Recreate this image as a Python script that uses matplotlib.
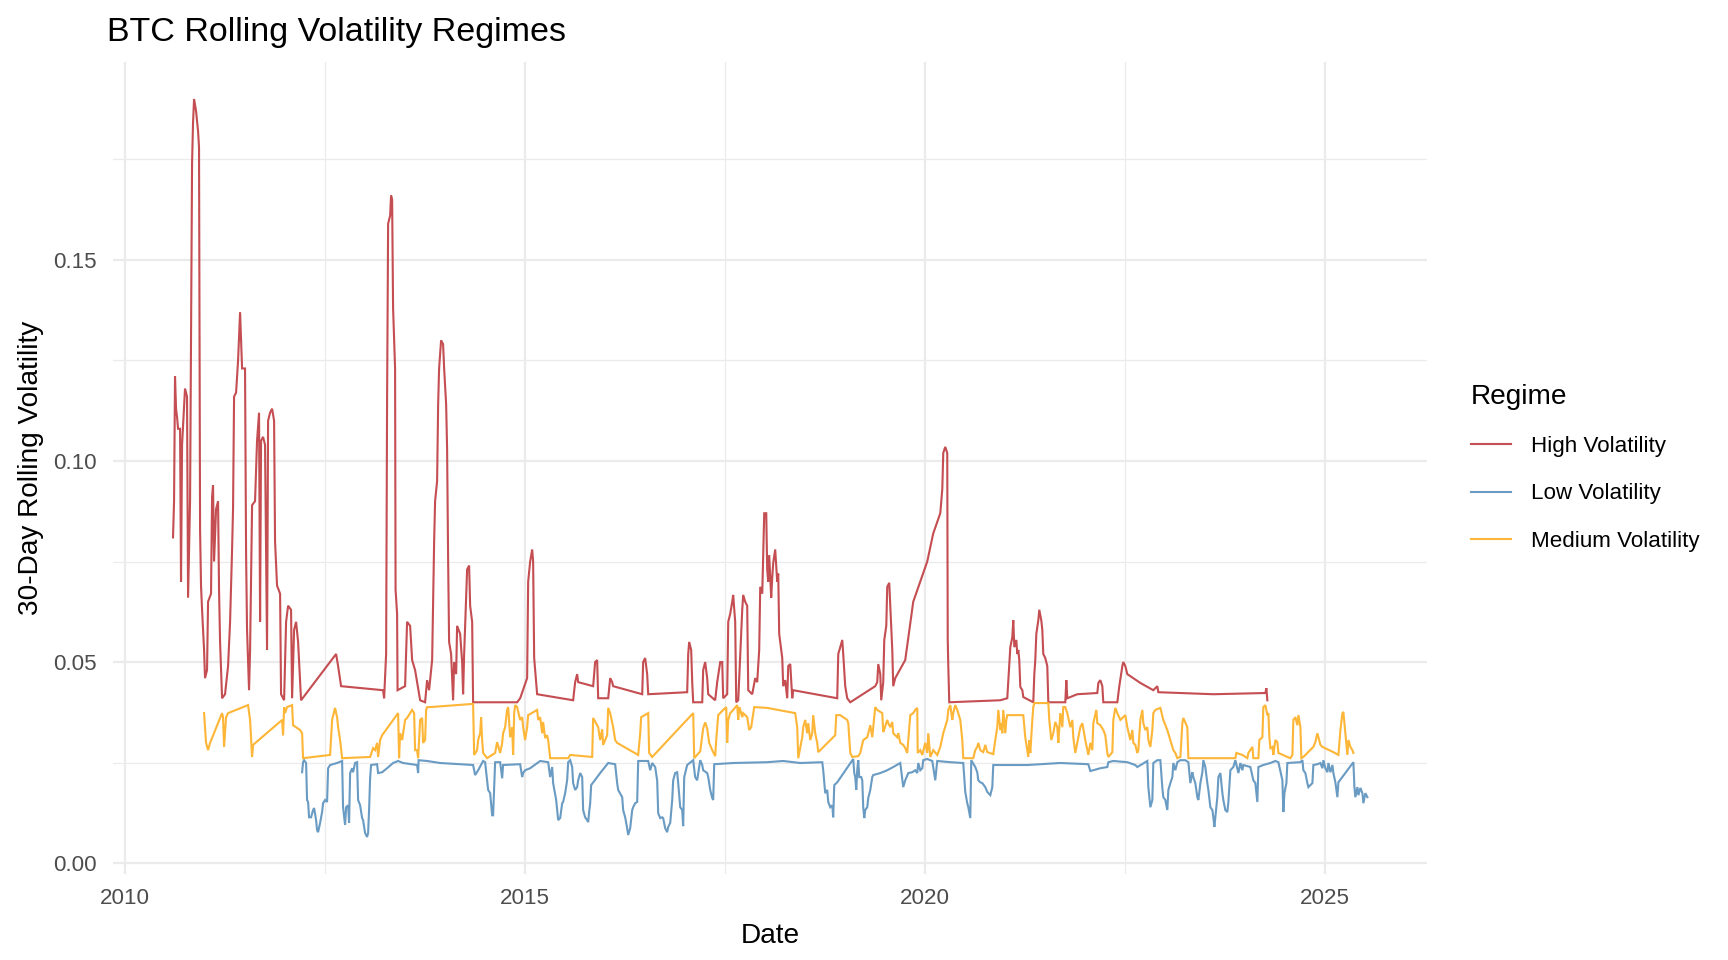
import matplotlib
matplotlib.use("Agg")
import matplotlib.pyplot as plt
from matplotlib.ticker import MultipleLocator

# decimal year, 30-day rolling volatility
high_dates = [
    2010.600, 2010.613, 2010.625, 2010.638, 2010.650, 2010.663, 2010.688, 2010.700, 2010.713, 2010.750,
    2010.775, 2010.788, 2010.813, 2010.838, 2010.850, 2010.863, 2010.888, 2010.913, 2010.925, 2010.938,
    2010.950, 2010.963, 2010.988, 2011.000, 2011.025, 2011.038, 2011.075, 2011.088, 2011.100, 2011.113,
    2011.138, 2011.163, 2011.175, 2011.188, 2011.213, 2011.250, 2011.288, 2011.313, 2011.338, 2011.350,
    2011.363, 2011.388, 2011.413, 2011.438, 2011.463, 2011.500, 2011.513, 2011.525, 2011.550, 2011.563,
    2011.588, 2011.625, 2011.650, 2011.675, 2011.688, 2011.700, 2011.725, 2011.750, 2011.775, 2011.788,
    2011.813, 2011.838, 2011.863, 2011.875, 2011.900, 2011.938, 2011.950, 2011.988, 2012.013, 2012.038,
    2012.075, 2012.088, 2012.113, 2012.138, 2012.163, 2012.200, 2012.638, 2012.650, 2012.663, 2012.700,
    2013.225, 2013.238, 2013.263, 2013.275, 2013.288, 2013.313, 2013.325, 2013.338, 2013.350, 2013.375,
    2013.381, 2013.400, 2013.406, 2013.500, 2013.525, 2013.563, 2013.588, 2013.625, 2013.688, 2013.750,
    2013.775, 2013.800, 2013.838, 2013.863, 2013.875, 2013.900, 2013.913, 2013.925, 2013.950, 2013.975,
    2013.988, 2014.013, 2014.025, 2014.038, 2014.050, 2014.075, 2014.100, 2014.113, 2014.138, 2014.150,
    2014.188, 2014.213, 2014.225, 2014.238, 2014.275, 2014.300, 2014.313, 2014.338, 2014.350, 2014.900,
    2014.938, 2015.025, 2015.038, 2015.063, 2015.088, 2015.100, 2015.113, 2015.138, 2015.150, 2015.600,
    2015.625, 2015.650, 2015.663, 2015.850, 2015.875, 2015.900, 2015.913, 2016.038, 2016.063, 2016.088,
    2016.100, 2016.463, 2016.475, 2016.500, 2016.525, 2016.538, 2017.025, 2017.038, 2017.050, 2017.075,
    2017.088, 2017.100, 2017.213, 2017.225, 2017.250, 2017.275, 2017.288, 2017.375, 2017.400, 2017.438,
    2017.463, 2017.475, 2017.525, 2017.538, 2017.563, 2017.588, 2017.600, 2017.625, 2017.638, 2017.663,
    2017.688, 2017.713, 2017.725, 2017.750, 2017.775, 2017.788, 2017.838, 2017.875, 2017.900, 2017.925,
    2017.938, 2017.963, 2017.975, 2017.988, 2018.013, 2018.025, 2018.038, 2018.050, 2018.075, 2018.088,
    2018.100, 2018.125, 2018.150, 2018.163, 2018.175, 2018.213, 2018.225, 2018.250, 2018.275, 2018.288,
    2018.313, 2018.338, 2018.350, 2018.900, 2018.913, 2018.938, 2018.963, 2018.975, 2019.000, 2019.025,
    2019.063, 2019.375, 2019.400, 2019.413, 2019.438, 2019.450, 2019.475, 2019.488, 2019.513, 2019.525,
    2019.550, 2019.563, 2019.588, 2019.600, 2019.625, 2019.750, 2019.850, 2020.025, 2020.100, 2020.188,
    2020.213, 2020.225, 2020.250, 2020.275, 2020.281, 2020.288, 2020.300, 2020.938, 2021.025, 2021.038,
    2021.063, 2021.088, 2021.100, 2021.113, 2021.138, 2021.150, 2021.163, 2021.175, 2021.188, 2021.213,
    2021.225, 2021.350, 2021.363, 2021.375, 2021.388, 2021.413, 2021.425, 2021.450, 2021.463, 2021.475,
    2021.500, 2021.525, 2021.538, 2021.750, 2021.763, 2021.775, 2021.900, 2022.150, 2022.163, 2022.188,
    2022.213, 2022.225, 2022.400, 2022.413, 2022.425, 2022.463, 2022.475, 2022.500, 2022.525, 2022.688,
    2022.850, 2022.900, 2022.913, 2023.600, 2024.250, 2024.263, 2024.275,
]
high_vol = [
    0.081, 0.090, 0.121, 0.113, 0.111, 0.108, 0.108, 0.070, 0.104, 0.118,
    0.116, 0.066, 0.090, 0.174, 0.184, 0.190, 0.187, 0.182, 0.178, 0.083,
    0.069, 0.063, 0.053, 0.046, 0.048, 0.065, 0.067, 0.091, 0.094, 0.075,
    0.088, 0.090, 0.068, 0.055, 0.041, 0.042, 0.049, 0.060, 0.078, 0.088,
    0.116, 0.117, 0.125, 0.137, 0.123, 0.123, 0.077, 0.058, 0.043, 0.053,
    0.089, 0.090, 0.105, 0.112, 0.060, 0.105, 0.106, 0.104, 0.053, 0.110,
    0.112, 0.113, 0.110, 0.080, 0.069, 0.067, 0.042, 0.0405, 0.060, 0.064,
    0.063, 0.041, 0.058, 0.060, 0.055, 0.0405, 0.052, 0.0505, 0.049, 0.044,
    0.043, 0.041, 0.052, 0.115, 0.159, 0.161, 0.166, 0.165, 0.138, 0.123,
    0.068, 0.062, 0.043, 0.044, 0.060, 0.059, 0.0505, 0.048, 0.0405, 0.040,
    0.0455, 0.043, 0.0505, 0.080, 0.090, 0.095, 0.114, 0.123, 0.130, 0.129,
    0.123, 0.114, 0.103, 0.075, 0.055, 0.052, 0.0405, 0.050, 0.047, 0.059,
    0.057, 0.050, 0.042, 0.052, 0.073, 0.074, 0.064, 0.060, 0.040, 0.040,
    0.041, 0.046, 0.070, 0.075, 0.078, 0.075, 0.051, 0.045, 0.042, 0.0405,
    0.045, 0.047, 0.045, 0.044, 0.050, 0.0505, 0.041, 0.041, 0.046, 0.045,
    0.044, 0.042, 0.050, 0.051, 0.047, 0.042, 0.0425, 0.052, 0.055, 0.053,
    0.045, 0.040, 0.040, 0.048, 0.050, 0.046, 0.042, 0.0405, 0.045, 0.050,
    0.050, 0.041, 0.042, 0.060, 0.062, 0.065, 0.0667, 0.060, 0.040, 0.0405,
    0.052, 0.063, 0.0667, 0.065, 0.064, 0.043, 0.042, 0.046, 0.045, 0.053,
    0.0687, 0.067, 0.077, 0.087, 0.087, 0.073, 0.070, 0.0766, 0.066, 0.071,
    0.0746, 0.078, 0.070, 0.072, 0.057, 0.051, 0.044, 0.0455, 0.041, 0.049,
    0.0495, 0.041, 0.043, 0.041, 0.052, 0.0537, 0.0555, 0.052, 0.044, 0.041,
    0.040, 0.044, 0.045, 0.0495, 0.047, 0.0405, 0.045, 0.0555, 0.059, 0.0687,
    0.0697, 0.064, 0.053, 0.044, 0.046, 0.0505, 0.065, 0.075, 0.082, 0.087,
    0.093, 0.102, 0.1035, 0.102, 0.0555, 0.049, 0.040, 0.0405, 0.041, 0.0455,
    0.0537, 0.0562, 0.0604, 0.0537, 0.0555, 0.052, 0.053, 0.0505, 0.0438, 0.043,
    0.0413, 0.040, 0.047, 0.0505, 0.057, 0.0604, 0.063, 0.0604, 0.058, 0.052,
    0.051, 0.049, 0.040, 0.040, 0.0455, 0.041, 0.042, 0.0423, 0.0448, 0.0455,
    0.044, 0.040, 0.040, 0.042, 0.044, 0.049, 0.050, 0.049, 0.047, 0.0448,
    0.043, 0.044, 0.0425, 0.042, 0.0423, 0.0435, 0.0405,
]

low_dates = [
    2012.213, 2012.225, 2012.238, 2012.263, 2012.275, 2012.288, 2012.300, 2012.325, 2012.350, 2012.363,
    2012.388, 2012.400, 2012.413, 2012.438, 2012.463, 2012.475, 2012.500, 2012.525, 2012.538, 2012.563,
    2012.650, 2012.713, 2012.725, 2012.750, 2012.763, 2012.788, 2012.800, 2012.813, 2012.838, 2012.850,
    2012.875, 2012.900, 2012.913, 2012.938, 2012.963, 2012.975, 2013.000, 2013.025, 2013.038, 2013.050,
    2013.063, 2013.075, 2013.150, 2013.163, 2013.213, 2013.275, 2013.350, 2013.413, 2013.475, 2013.650,
    2013.663, 2013.669, 2013.775, 2013.938, 2014.188, 2014.350, 2014.375, 2014.413, 2014.475, 2014.500,
    2014.525, 2014.538, 2014.563, 2014.588, 2014.600, 2014.613, 2014.625, 2014.688, 2014.713, 2014.725,
    2014.938, 2014.963, 2014.975, 2015.000, 2015.063, 2015.188, 2015.288, 2015.313, 2015.338, 2015.350,
    2015.388, 2015.413, 2015.438, 2015.463, 2015.475, 2015.500, 2015.525, 2015.538, 2015.563, 2015.588,
    2015.600, 2015.625, 2015.650, 2015.663, 2015.688, 2015.713, 2015.725, 2015.750, 2015.775, 2015.788,
    2015.800, 2015.813, 2015.825, 2015.938, 2016.038, 2016.125, 2016.150, 2016.163, 2016.213, 2016.225,
    2016.250, 2016.275, 2016.288, 2016.313, 2016.338, 2016.350, 2016.375, 2016.400, 2016.413, 2016.538,
    2016.563, 2016.588, 2016.625, 2016.650, 2016.663, 2016.688, 2016.713, 2016.725, 2016.750, 2016.775,
    2016.788, 2016.813, 2016.838, 2016.850, 2016.875, 2016.900, 2016.913, 2016.938, 2016.963, 2016.975,
    2016.988, 2017.025, 2017.100, 2017.125, 2017.150, 2017.188, 2017.213, 2017.225, 2017.275, 2017.288,
    2017.313, 2017.338, 2017.350, 2017.363, 2017.600, 2018.025, 2018.225, 2018.438, 2018.713, 2018.725,
    2018.750, 2018.775, 2018.788, 2018.813, 2018.838, 2018.850, 2018.863, 2018.900, 2019.100, 2019.113,
    2019.125, 2019.138, 2019.150, 2019.163, 2019.175, 2019.200, 2019.213, 2019.225, 2019.238, 2019.250,
    2019.275, 2019.288, 2019.313, 2019.338, 2019.350, 2019.438, 2019.525, 2019.600, 2019.688, 2019.725,
    2019.750, 2019.788, 2019.838, 2019.875, 2019.900, 2019.913, 2019.938, 2019.963, 2019.975, 2020.025,
    2020.088, 2020.125, 2020.150, 2020.313, 2020.475, 2020.500, 2020.525, 2020.538, 2020.563, 2020.575,
    2020.625, 2020.650, 2020.663, 2020.688, 2020.713, 2020.750, 2020.775, 2020.813, 2020.838, 2020.850,
    2021.275, 2021.438, 2021.688, 2022.038, 2022.063, 2022.100, 2022.188, 2022.275, 2022.288, 2022.350,
    2022.525, 2022.625, 2022.650, 2022.775, 2022.788, 2022.813, 2022.838, 2022.850, 2022.900, 2022.938,
    2022.963, 2022.975, 2023.000, 2023.025, 2023.038, 2023.063, 2023.088, 2023.100, 2023.125, 2023.150,
    2023.188, 2023.250, 2023.288, 2023.313, 2023.338, 2023.350, 2023.375, 2023.400, 2023.413, 2023.438,
    2023.463, 2023.475, 2023.500, 2023.525, 2023.538, 2023.563, 2023.588, 2023.600, 2023.613, 2023.638,
    2023.650, 2023.663, 2023.688, 2023.713, 2023.725, 2023.750, 2023.775, 2023.788, 2023.813, 2023.850,
    2023.875, 2023.913, 2023.938, 2023.963, 2023.975, 2024.063, 2024.100, 2024.125, 2024.150, 2024.163,
    2024.225, 2024.313, 2024.375, 2024.413, 2024.463, 2024.475, 2024.488, 2024.513, 2024.525, 2024.688,
    2024.713, 2024.725, 2024.750, 2024.775, 2024.788, 2024.813, 2024.838, 2024.850, 2024.900, 2024.938,
    2024.963, 2024.975, 2025.000, 2025.025, 2025.038, 2025.063, 2025.088, 2025.100, 2025.125, 2025.150,
    2025.163, 2025.350, 2025.363, 2025.375, 2025.400, 2025.413, 2025.438, 2025.463, 2025.475, 2025.500,
    2025.525,
]
low_vol = [
    0.0226, 0.0251, 0.0256, 0.0249, 0.0157, 0.0152, 0.0114, 0.0114, 0.0132, 0.0137,
    0.0107, 0.0082, 0.0077, 0.0100, 0.0127, 0.0149, 0.0157, 0.0152, 0.0236, 0.0244,
    0.0249, 0.0254, 0.0139, 0.0095, 0.0139, 0.0144, 0.0100, 0.0224, 0.0236, 0.0226,
    0.0249, 0.0251, 0.0157, 0.0144, 0.0112, 0.0107, 0.0075, 0.0065, 0.0075, 0.0132,
    0.0211, 0.0244, 0.0246, 0.0224, 0.0226, 0.0236, 0.0249, 0.0254, 0.0249, 0.0244,
    0.0224, 0.0256, 0.0254, 0.0249, 0.0246, 0.0244, 0.0219, 0.0231, 0.0254, 0.0251,
    0.0206, 0.0182, 0.0174, 0.0119, 0.0119, 0.0189, 0.0251, 0.0251, 0.0211, 0.0244,
    0.0246, 0.0214, 0.0224, 0.0231, 0.0236, 0.0254, 0.0251, 0.0214, 0.0239, 0.0199,
    0.0157, 0.0107, 0.0112, 0.0149, 0.0152, 0.0174, 0.0206, 0.0251, 0.0256, 0.0239,
    0.0199, 0.0182, 0.0189, 0.0206, 0.0224, 0.0214, 0.0132, 0.0114, 0.0107, 0.0102,
    0.0127, 0.0149, 0.0194, 0.0224, 0.0249, 0.0246, 0.0199, 0.0182, 0.0164, 0.0132,
    0.0114, 0.0087, 0.0070, 0.0087, 0.0132, 0.0139, 0.0149, 0.0152, 0.0254, 0.0254,
    0.0231, 0.0249, 0.0239, 0.0206, 0.0124, 0.0112, 0.0114, 0.0112, 0.0087, 0.0077,
    0.0090, 0.0100, 0.0157, 0.0206, 0.0224, 0.0226, 0.0199, 0.0139, 0.0132, 0.0092,
    0.0214, 0.0244, 0.0256, 0.0214, 0.0206, 0.0256, 0.0244, 0.0231, 0.0224, 0.0214,
    0.0182, 0.0162, 0.0157, 0.0246, 0.0249, 0.0251, 0.0254, 0.0249, 0.0251, 0.0231,
    0.0174, 0.0182, 0.0152, 0.0139, 0.0144, 0.0114, 0.0194, 0.0201, 0.0259, 0.0224,
    0.0214, 0.0182, 0.0231, 0.0256, 0.0214, 0.0214, 0.0206, 0.0139, 0.0112, 0.0132,
    0.0139, 0.0162, 0.0182, 0.0214, 0.0219, 0.0224, 0.0231, 0.0239, 0.0249, 0.0189,
    0.0206, 0.0224, 0.0226, 0.0231, 0.0224, 0.0249, 0.0231, 0.0236, 0.0256, 0.0259,
    0.0254, 0.0206, 0.0254, 0.0251, 0.0249, 0.0177, 0.0149, 0.0139, 0.0112, 0.0256,
    0.0239, 0.0226, 0.0206, 0.0201, 0.0199, 0.0189, 0.0177, 0.0169, 0.0189, 0.0244,
    0.0244, 0.0246, 0.0249, 0.0246, 0.0229, 0.0231, 0.0236, 0.0239, 0.0251, 0.0254,
    0.0251, 0.0244, 0.0239, 0.0254, 0.0189, 0.0139, 0.0157, 0.0249, 0.0256, 0.0256,
    0.0187, 0.0164, 0.0157, 0.0132, 0.0182, 0.0199, 0.0214, 0.0249, 0.0231, 0.0251,
    0.0256, 0.0256, 0.0251, 0.0199, 0.0226, 0.0214, 0.0199, 0.0164, 0.0157, 0.0199,
    0.0226, 0.0256, 0.0239, 0.0199, 0.0182, 0.0139, 0.0132, 0.0114, 0.0090, 0.0139,
    0.0164, 0.0214, 0.0224, 0.0174, 0.0157, 0.0132, 0.0127, 0.0152, 0.0231, 0.0239,
    0.0256, 0.0224, 0.0249, 0.0231, 0.0244, 0.0239, 0.0206, 0.0199, 0.0152, 0.0239,
    0.0244, 0.0249, 0.0254, 0.0251, 0.0206, 0.0127, 0.0174, 0.0199, 0.0249, 0.0251,
    0.0256, 0.0231, 0.0224, 0.0199, 0.0189, 0.0194, 0.0199, 0.0244, 0.0246, 0.0249,
    0.0236, 0.0256, 0.0236, 0.0226, 0.0249, 0.0226, 0.0244, 0.0224, 0.0201, 0.0164,
    0.0201, 0.0251, 0.0189, 0.0164, 0.0189, 0.0169, 0.0187, 0.0174, 0.0149, 0.0174,
    0.0164,
]

medium_dates = [
    2010.988, 2011.013, 2011.038, 2011.063, 2011.213, 2011.225, 2011.238, 2011.263, 2011.288, 2011.538,
    2011.563, 2011.588, 2011.600, 2011.963, 2011.975, 2011.988, 2012.000, 2012.025, 2012.088, 2012.100,
    2012.188, 2012.213, 2012.225, 2012.563, 2012.588, 2012.625, 2012.650, 2012.663, 2012.688, 2012.713,
    2013.063, 2013.100, 2013.125, 2013.150, 2013.163, 2013.188, 2013.213, 2013.413, 2013.425, 2013.438,
    2013.463, 2013.500, 2013.525, 2013.588, 2013.613, 2013.625, 2013.650, 2013.663, 2013.688, 2013.713,
    2013.725, 2013.750, 2013.763, 2013.775, 2013.813, 2014.350, 2014.363, 2014.400, 2014.413, 2014.438,
    2014.450, 2014.463, 2014.475, 2014.525, 2014.625, 2014.650, 2014.688, 2014.713, 2014.725, 2014.750,
    2014.775, 2014.788, 2014.813, 2014.838, 2014.850, 2014.863, 2014.875, 2014.900, 2014.938, 2014.963,
    2014.975, 2015.000, 2015.025, 2015.038, 2015.150, 2015.163, 2015.188, 2015.213, 2015.225, 2015.250,
    2015.275, 2015.288, 2015.313, 2015.538, 2015.563, 2015.838, 2015.850, 2015.913, 2015.938, 2015.963,
    2015.975, 2016.025, 2016.038, 2016.063, 2016.100, 2016.125, 2016.150, 2016.413, 2016.438, 2016.450,
    2016.538, 2016.550, 2016.588, 2017.100, 2017.113, 2017.188, 2017.225, 2017.250, 2017.275, 2017.300,
    2017.338, 2017.375, 2017.388, 2017.413, 2017.475, 2017.513, 2017.525, 2017.538, 2017.563, 2017.600,
    2017.650, 2017.663, 2017.675, 2017.688, 2017.713, 2017.725, 2017.775, 2017.800, 2017.825, 2017.838,
    2017.863, 2018.025, 2018.375, 2018.400, 2018.413, 2018.463, 2018.475, 2018.500, 2018.525, 2018.538,
    2018.563, 2018.588, 2018.600, 2018.625, 2018.650, 2018.663, 2018.688, 2018.875, 2018.888, 2018.938,
    2019.025, 2019.038, 2019.063, 2019.088, 2019.163, 2019.188, 2019.225, 2019.275, 2019.313, 2019.338,
    2019.350, 2019.375, 2019.400, 2019.463, 2019.475, 2019.488, 2019.525, 2019.538, 2019.563, 2019.588,
    2019.600, 2019.650, 2019.663, 2019.688, 2019.725, 2019.750, 2019.775, 2019.788, 2019.813, 2019.850,
    2019.875, 2019.900, 2019.906, 2019.938, 2019.963, 2020.000, 2020.025, 2020.038, 2020.063, 2020.100,
    2020.150, 2020.188, 2020.225, 2020.275, 2020.288, 2020.313, 2020.338, 2020.350, 2020.375, 2020.400,
    2020.438, 2020.463, 2020.475, 2020.600, 2020.625, 2020.650, 2020.663, 2020.688, 2020.725, 2020.750,
    2020.775, 2020.850, 2020.875, 2020.900, 2020.913, 2020.938, 2020.950, 2020.963, 2020.975, 2021.000,
    2021.013, 2021.025, 2021.225, 2021.250, 2021.275, 2021.288, 2021.300, 2021.313, 2021.338, 2021.350,
    2021.363, 2021.538, 2021.550, 2021.575, 2021.600, 2021.625, 2021.650, 2021.663, 2021.688, 2021.713,
    2021.725, 2021.750, 2021.775, 2021.813, 2021.838, 2021.850, 2021.875, 2021.900, 2021.938, 2021.963,
    2022.000, 2022.025, 2022.038, 2022.063, 2022.088, 2022.100, 2022.138, 2022.150, 2022.188, 2022.225,
    2022.250, 2022.275, 2022.288, 2022.338, 2022.350, 2022.375, 2022.400, 2022.438, 2022.463, 2022.500,
    2022.525, 2022.563, 2022.588, 2022.600, 2022.625, 2022.650, 2022.663, 2022.688, 2022.713, 2022.725,
    2022.750, 2022.775, 2022.788, 2022.813, 2022.838, 2022.850, 2022.875, 2022.938, 2022.975, 2023.025,
    2023.063, 2023.100, 2023.125, 2023.150, 2023.188, 2023.213, 2023.225, 2023.275, 2023.288, 2023.875,
    2023.888, 2023.963, 2024.025, 2024.038, 2024.088, 2024.100, 2024.163, 2024.175, 2024.213, 2024.225,
    2024.250, 2024.275, 2024.288, 2024.300, 2024.313, 2024.338, 2024.350, 2024.375, 2024.400, 2024.413,
    2024.525, 2024.563, 2024.588, 2024.600, 2024.625, 2024.650, 2024.663, 2024.688, 2024.700, 2024.725,
    2024.850, 2024.875, 2024.900, 2024.913, 2024.938, 2024.963, 2025.100, 2025.163, 2025.188, 2025.213,
    2025.225, 2025.250, 2025.275, 2025.288, 2025.313, 2025.338, 2025.350,
]
medium_vol = [
    0.0373, 0.0299, 0.0281, 0.0299, 0.0373, 0.0363, 0.0289, 0.0363, 0.0373, 0.0393,
    0.0356, 0.0264, 0.0294, 0.0356, 0.0318, 0.0388, 0.0373, 0.0388, 0.0393, 0.0343,
    0.0331, 0.0323, 0.0261, 0.0269, 0.0356, 0.0386, 0.0363, 0.0338, 0.0306, 0.0261,
    0.0264, 0.0286, 0.0281, 0.0299, 0.0264, 0.0306, 0.0318, 0.0373, 0.0261, 0.0323,
    0.0306, 0.0356, 0.0361, 0.0381, 0.0373, 0.0281, 0.0281, 0.0261, 0.0356, 0.0361,
    0.0299, 0.0306, 0.0381, 0.0388, 0.0388, 0.0396, 0.0269, 0.0281, 0.0306, 0.0323,
    0.0363, 0.0306, 0.0274, 0.0261, 0.0274, 0.0301, 0.0274, 0.0299, 0.0323, 0.0338,
    0.0381, 0.0388, 0.0313, 0.0338, 0.0269, 0.0373, 0.0393, 0.0388, 0.0356, 0.0363,
    0.0338, 0.0306, 0.0338, 0.0368, 0.0381, 0.0356, 0.0363, 0.0323, 0.0351, 0.0311,
    0.0318, 0.0306, 0.0261, 0.0261, 0.0269, 0.0264, 0.0361, 0.0338, 0.0306, 0.0333,
    0.0294, 0.0318, 0.0386, 0.0373, 0.0338, 0.0306, 0.0299, 0.0269, 0.0323, 0.0363,
    0.0373, 0.0274, 0.0264, 0.0373, 0.0261, 0.0278, 0.0335, 0.0350, 0.0335, 0.0299,
    0.0281, 0.0266, 0.0306, 0.0368, 0.0381, 0.0388, 0.0299, 0.0356, 0.0373, 0.0381,
    0.0393, 0.0356, 0.0388, 0.0381, 0.0363, 0.0373, 0.0363, 0.0331, 0.0338, 0.0356,
    0.0388, 0.0386, 0.0373, 0.0338, 0.0261, 0.0313, 0.0338, 0.0356, 0.0323, 0.0348,
    0.0306, 0.0323, 0.0368, 0.0323, 0.0299, 0.0276, 0.0281, 0.0318, 0.0368, 0.0368,
    0.0356, 0.0348, 0.0274, 0.0264, 0.0266, 0.0274, 0.0306, 0.0313, 0.0343, 0.0313,
    0.0338, 0.0388, 0.0381, 0.0373, 0.0326, 0.0333, 0.0356, 0.0348, 0.0338, 0.0351,
    0.0323, 0.0313, 0.0323, 0.0299, 0.0294, 0.0286, 0.0274, 0.0306, 0.0368, 0.0373,
    0.0381, 0.0386, 0.0274, 0.0281, 0.0269, 0.0299, 0.0274, 0.0323, 0.0264, 0.0281,
    0.0269, 0.0289, 0.0323, 0.0356, 0.0381, 0.0393, 0.0356, 0.0373, 0.0393, 0.0381,
    0.0356, 0.0306, 0.0261, 0.0261, 0.0281, 0.0289, 0.0299, 0.0281, 0.0276, 0.0294,
    0.0276, 0.0271, 0.0306, 0.0338, 0.0381, 0.0331, 0.0348, 0.0323, 0.0381, 0.0323,
    0.0356, 0.0368, 0.0368, 0.0313, 0.0281, 0.0264, 0.0306, 0.0274, 0.0356, 0.0388,
    0.0398, 0.0398, 0.0356, 0.0306, 0.0323, 0.0351, 0.0338, 0.0299, 0.0373, 0.0338,
    0.0388, 0.0388, 0.0373, 0.0338, 0.0356, 0.0313, 0.0274, 0.0299, 0.0338, 0.0348,
    0.0306, 0.0281, 0.0269, 0.0299, 0.0281, 0.0348, 0.0381, 0.0348, 0.0343, 0.0331,
    0.0318, 0.0274, 0.0264, 0.0276, 0.0356, 0.0386, 0.0373, 0.0356, 0.0361, 0.0368,
    0.0338, 0.0306, 0.0331, 0.0299, 0.0294, 0.0274, 0.0281, 0.0356, 0.0381, 0.0348,
    0.0331, 0.0338, 0.0306, 0.0289, 0.0331, 0.0373, 0.0381, 0.0386, 0.0356, 0.0331,
    0.0306, 0.0281, 0.0274, 0.0261, 0.0264, 0.0348, 0.0361, 0.0338, 0.0261, 0.0261,
    0.0274, 0.0269, 0.0261, 0.0274, 0.0289, 0.0261, 0.0261, 0.0306, 0.0313, 0.0388,
    0.0393, 0.0368, 0.0373, 0.0313, 0.0286, 0.0289, 0.0269, 0.0306, 0.0301, 0.0274,
    0.0264, 0.0261, 0.0269, 0.0356, 0.0363, 0.0343, 0.0368, 0.0338, 0.0261, 0.0264,
    0.0289, 0.0301, 0.0323, 0.0313, 0.0294, 0.0289, 0.0276, 0.0269, 0.0331, 0.0373,
    0.0376, 0.0323, 0.0269, 0.0306, 0.0289, 0.0281, 0.0274,
]

regimes = ["High Volatility", "Low Volatility", "Medium Volatility"]
colors = ["#C44E52", "#6A9BC3", "#FDB637"]

plt.rcParams["font.family"] = ["Liberation Sans", "DejaVu Sans"]

fig = plt.figure(figsize=(12, 960 / 144), dpi=144)
ax = fig.add_axes([113 / 1728, 1 - 874 / 960, (1427 - 113) / 1728, (874 - 62) / 960])

series = [(high_dates, high_vol), (low_dates, low_vol), (medium_dates, medium_vol)]
for (d, v), name, c in zip(series, regimes, colors):
    ax.plot(d, v, color=c, lw=1.05, label=name, solid_joinstyle="miter")

ax.set_xlim(2009.85, 2026.27)
ax.set_ylim(-0.0027, 0.1992)

ax.xaxis.set_major_locator(MultipleLocator(5))
ax.xaxis.set_minor_locator(MultipleLocator(2.5))
ax.yaxis.set_major_locator(MultipleLocator(0.05))
ax.yaxis.set_minor_locator(MultipleLocator(0.025))
ax.set_xticks([2010, 2015, 2020, 2025])
ax.set_xticklabels(["2010", "2015", "2020", "2025"])
ax.set_yticks([0, 0.05, 0.10, 0.15])
ax.set_yticklabels(["0.00", "0.05", "0.10", "0.15"])

ax.grid(which="major", color="#EBEBEB", lw=1.1)
ax.grid(which="minor", color="#EBEBEB", lw=0.6)
ax.set_axisbelow(True)
for s in ax.spines.values():
    s.set_visible(False)
ax.tick_params(which="both", length=0)
ax.tick_params(axis="both", labelsize=11.2, labelcolor="#4D4D4D")
ax.tick_params(axis="x", pad=7)
ax.tick_params(axis="y", pad=8)

fig.text(107 / 1728, 1 - 32 / 960, "BTC Rolling Volatility Regimes", fontsize=17,
         ha="left", va="center")
fig.text(770 / 1728, 1 - 936 / 960, "Date", fontsize=14, ha="center", va="center")
fig.text(31 / 1728, 1 - 468 / 960, "30-Day Rolling Volatility", fontsize=14,
         ha="center", va="center", rotation=90)

leg = ax.legend(title="Regime", loc="upper left", bbox_to_anchor=(1471 / 1728, 1 - 384 / 960),
                bbox_transform=fig.transFigure, frameon=False, fontsize=11.2,
                title_fontsize=14, handlelength=1.8, handletextpad=0.9,
                labelspacing=1.17, borderpad=0, borderaxespad=0, alignment="left")

fig.savefig("out.png", dpi=144)
